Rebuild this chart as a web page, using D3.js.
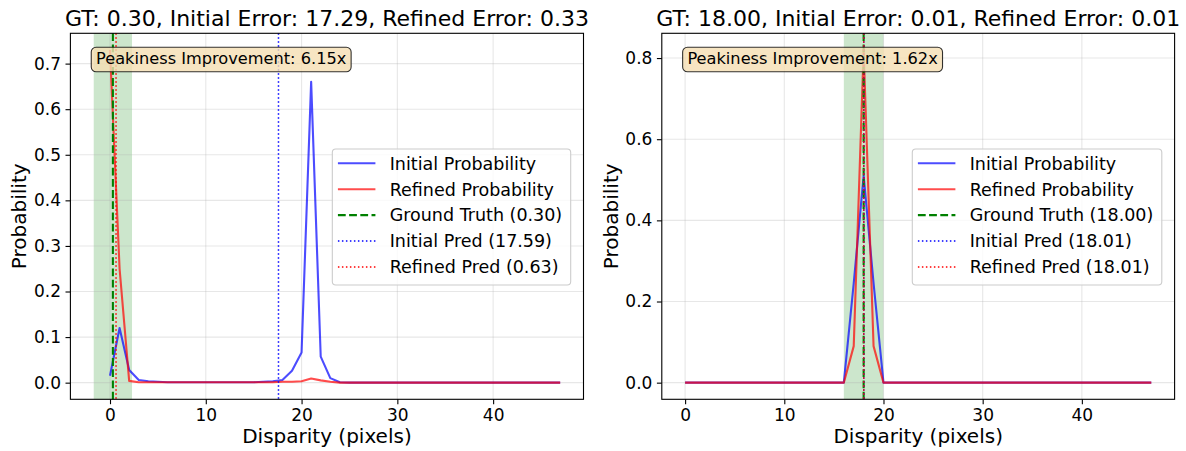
<!DOCTYPE html>
<html>
<head>
<meta charset="utf-8">
<script src="https://cdn.jsdelivr.net/npm/d3@7"></script>
<style>
  body { margin: 0; background: #fff; }
  svg { font-family: "DejaVu Sans", sans-serif; }
</style>
</head>
<body>
<svg id="chart" width="1186" height="451"></svg>
<script>
// disparity bins 0..47
const disparity = [0, 1, 2, 3, 4, 5, 6, 7, 8, 9, 10, 11, 12, 13, 14, 15, 16, 17, 18, 19,
  20, 21, 22, 23, 24, 25, 26, 27, 28, 29, 30, 31, 32, 33, 34, 35, 36, 37, 38, 39,
  40, 41, 42, 43, 44, 45, 46, 47];

// sample 1 (left)
const leftInitial = [0.015, 0.12, 0.028, 0.006, 0.003, 0.002, 0.001, 0.001, 0.001, 0.001,
  0.001, 0.001, 0.001, 0.001, 0.001, 0.001, 0.002, 0.003, 0.006, 0.026,
  0.066, 0.66, 0.057, 0.010, 0.001, 0, 0, 0, 0, 0,
  0, 0, 0, 0, 0, 0, 0, 0, 0, 0, 0, 0, 0, 0, 0, 0, 0, 0];
const leftRefined = [0.73, 0.25, 0.004, 0.001, 0.001, 0.001, 0.001, 0.001, 0.001, 0.001,
  0.001, 0.001, 0.001, 0.001, 0.001, 0.001, 0.001, 0.001, 0.002, 0.002,
  0.003, 0.009, 0.005, 0.002, 0, 0, 0, 0, 0, 0,
  0, 0, 0, 0, 0, 0, 0, 0, 0, 0, 0, 0, 0, 0, 0, 0, 0, 0];

// sample 2 (right)
const rightInitial = [0, 0, 0, 0, 0, 0, 0, 0, 0, 0, 0, 0, 0, 0, 0, 0, 0,
  0.245, 0.51, 0.245, 0, 0, 0, 0, 0, 0, 0, 0, 0, 0,
  0, 0, 0, 0, 0, 0, 0, 0, 0, 0, 0, 0, 0, 0, 0, 0, 0, 0];
const rightRefined = [0, 0, 0, 0, 0, 0, 0, 0, 0, 0, 0, 0, 0, 0, 0, 0, 0,
  0.09, 0.82, 0.09, 0, 0, 0, 0, 0, 0, 0, 0, 0, 0,
  0, 0, 0, 0, 0, 0, 0, 0, 0, 0, 0, 0, 0, 0, 0, 0, 0, 0];

const xTicks = [0, 10, 20, 30, 40];
const leftYTicks = [0, 0.1, 0.2, 0.3, 0.4, 0.5, 0.6, 0.7];
const rightYTicks = [0, 0.2, 0.4, 0.6, 0.8];

const titles = ['GT: 0.30, Initial Error: 17.29, Refined Error: 0.33',
  'GT: 18.00, Initial Error: 0.01, Refined Error: 0.01'];
const groundTruth = [0.30, 18.00];
const initialPred = [17.59, 18.01];
const refinedPred = [0.63, 18.01];
const peakiness = ['6.15x', '1.62x'];

const svg = d3.select('#chart');
const axTop = 33.3, axBottom = 399.3;

const panels = [
  {x0: 70.4, x1: 583.5, initial: leftInitial, refined: leftRefined, yTicks: leftYTicks, i: 0},
  {x0: 661.8, x1: 1174.6, initial: rightInitial, refined: rightRefined, yTicks: rightYTicks, i: 1}
];

panels.forEach(drawPanel);

function drawPanel(p) {
  const i = p.i;
  const gt = groundTruth[i];
  const w = p.x1 - p.x0, h = axBottom - axTop;

  // matplotlib style limits: 5% margin, span counts toward x limits
  const xmin = Math.min(0, gt - 2), xmax = Math.max(47, gt + 2);
  const xpad = (xmax - xmin) * 0.05;
  const ymax = d3.max(p.initial.concat(p.refined));
  const ypad = ymax * 0.05;

  const x = d3.scaleLinear().domain([xmin - xpad, xmax + xpad]).range([p.x0, p.x1]);
  const y = d3.scaleLinear().domain([-ypad, ymax + ypad]).range([axBottom, axTop]);

  const g = svg.append('g');

  // +-2 px band round ground truth
  g.append('rect')
    .attr('x', x(gt - 2)).attr('y', axTop)
    .attr('width', x(gt + 2) - x(gt - 2)).attr('height', h)
    .attr('fill', 'green').attr('fill-opacity', 0.2);

  // grid
  g.selectAll('line.gx').data(xTicks).enter().append('line')
    .attr('x1', d => x(d)).attr('x2', d => x(d))
    .attr('y1', axTop).attr('y2', axBottom)
    .attr('stroke', '#b0b0b0').attr('stroke-opacity', 0.3).attr('stroke-width', 1.1);
  g.selectAll('line.gy').data(p.yTicks).enter().append('line')
    .attr('x1', p.x0).attr('x2', p.x1)
    .attr('y1', d => y(d)).attr('y2', d => y(d))
    .attr('stroke', '#b0b0b0').attr('stroke-opacity', 0.3).attr('stroke-width', 1.1);

  const line = d3.line().x((d, k) => x(disparity[k])).y(d => y(d));
  g.append('path').datum(p.initial).attr('d', line)
    .attr('fill', 'none').attr('stroke', 'blue').attr('stroke-opacity', 0.7)
    .attr('stroke-width', 2.1).attr('stroke-linejoin', 'round');
  g.append('path').datum(p.refined).attr('d', line)
    .attr('fill', 'none').attr('stroke', 'red').attr('stroke-opacity', 0.7)
    .attr('stroke-width', 2.1).attr('stroke-linejoin', 'round');

  const vlines = [
    {v: gt, color: 'green', width: 2.1, dash: '7.8,3.4'},
    {v: initialPred[i], color: 'blue', width: 1.5, dash: '1.5,2.5'},
    {v: refinedPred[i], color: 'red', width: 1.5, dash: '1.5,2.5'}
  ];
  g.selectAll('line.v').data(vlines).enter().append('line')
    .attr('x1', d => x(d.v)).attr('x2', d => x(d.v))
    .attr('y1', axTop).attr('y2', axBottom)
    .attr('stroke', d => d.color).attr('stroke-width', d => d.width)
    .attr('stroke-dasharray', d => d.dash);

  // frame
  g.append('rect').attr('x', p.x0).attr('y', axTop).attr('width', w).attr('height', h)
    .attr('fill', 'none').attr('stroke', '#000').attr('stroke-width', 1.1);

  // axes
  const xa = g.append('g').attr('transform', `translate(0,${axBottom})`)
    .call(d3.axisBottom(x).tickValues(xTicks).tickSize(4.9).tickPadding(4.5).tickFormat(d3.format('d')));
  const ya = g.append('g').attr('transform', `translate(${p.x0},0)`)
    .call(d3.axisLeft(y).tickValues(p.yTicks).tickSize(4.9).tickPadding(4.5).tickFormat(d3.format('.1f')));
  [xa, ya].forEach(a => {
    a.select('.domain').remove();
    a.selectAll('.tick line').attr('stroke', '#000').attr('stroke-width', 1.1);
    a.selectAll('.tick text').attr('fill', '#000').style('font-size', '17px')
      .style('font-family', '"DejaVu Sans", sans-serif');
  });

  // labels
  g.append('text').attr('x', (p.x0 + p.x1) / 2).attr('y', 443)
    .attr('text-anchor', 'middle').style('font-size', '20px').text('Disparity (pixels)');
  g.append('text')
    .attr('transform', `translate(${p.x0 - 44},${(axTop + axBottom) / 2}) rotate(-90)`)
    .attr('text-anchor', 'middle').style('font-size', '20px').text('Probability');
  g.append('text').attr('x', (p.x0 + p.x1) / 2).attr('y', 26)
    .attr('text-anchor', 'middle').style('font-size', '22px').text(titles[i]);

  // peakiness box
  const tx = p.x0 + 0.05 * w;
  const box = g.append('g');
  const txt = box.append('text').attr('x', tx).attr('y', 64)
    .style('font-size', '16.2px').text('Peakiness Improvement: ' + peakiness[i]);
  const tw = txt.node().getComputedTextLength();
  box.insert('rect', 'text')
    .attr('x', tx - 4.8).attr('y', 47.3).attr('width', tw + 9.6).attr('height', 24.4)
    .attr('rx', 4.8)
    .attr('fill', 'wheat').attr('fill-opacity', 0.8)
    .attr('stroke', '#000').attr('stroke-opacity', 0.8).attr('stroke-width', 1.1);

  // legend, centre right
  const entries = [
    {label: 'Initial Probability', color: 'blue', op: 0.7, width: 2.1, dash: null},
    {label: 'Refined Probability', color: 'red', op: 0.7, width: 2.1, dash: null},
    {label: `Ground Truth (${gt.toFixed(2)})`, color: 'green', op: 1, width: 2.1, dash: '7.8,3.4'},
    {label: `Initial Pred (${initialPred[i].toFixed(2)})`, color: 'blue', op: 1, width: 1.5, dash: '1.5,2.5'},
    {label: `Refined Pred (${refinedPred[i].toFixed(2)})`, color: 'red', op: 1, width: 1.5, dash: '1.5,2.5'}
  ];
  const lg = g.append('g');
  const lbox = lg.append('rect');
  const rowY = k => 163.3 + k * 25.9;
  const rows = lg.selectAll('g.row').data(entries).enter().append('g');
  const texts = rows.append('text').attr('y', (d, k) => rowY(k) + 6.3)
    .style('font-size', '17.5px').text(d => d.label);
  const maxW = d3.max(texts.nodes(), n => n.getComputedTextLength());
  const lw = 5.6 + 37.5 + 14.3 + maxW + 8.5;
  const lx = p.x1 - 12.8 - lw;
  texts.attr('x', lx + 5.6 + 37.5 + 14.3);
  rows.append('line')
    .attr('x1', lx + 5.6).attr('x2', lx + 5.6 + 37.5)
    .attr('y1', (d, k) => rowY(k)).attr('y2', (d, k) => rowY(k))
    .attr('stroke', d => d.color).attr('stroke-opacity', d => d.op)
    .attr('stroke-width', d => d.width).attr('stroke-dasharray', d => d.dash);
  lbox.attr('x', lx).attr('y', 149).attr('width', lw).attr('height', 136)
    .attr('rx', 3.5).attr('fill', '#fff').attr('fill-opacity', 0.8)
    .attr('stroke', '#cccccc').attr('stroke-width', 1.1);
}
</script>
</body>
</html>
